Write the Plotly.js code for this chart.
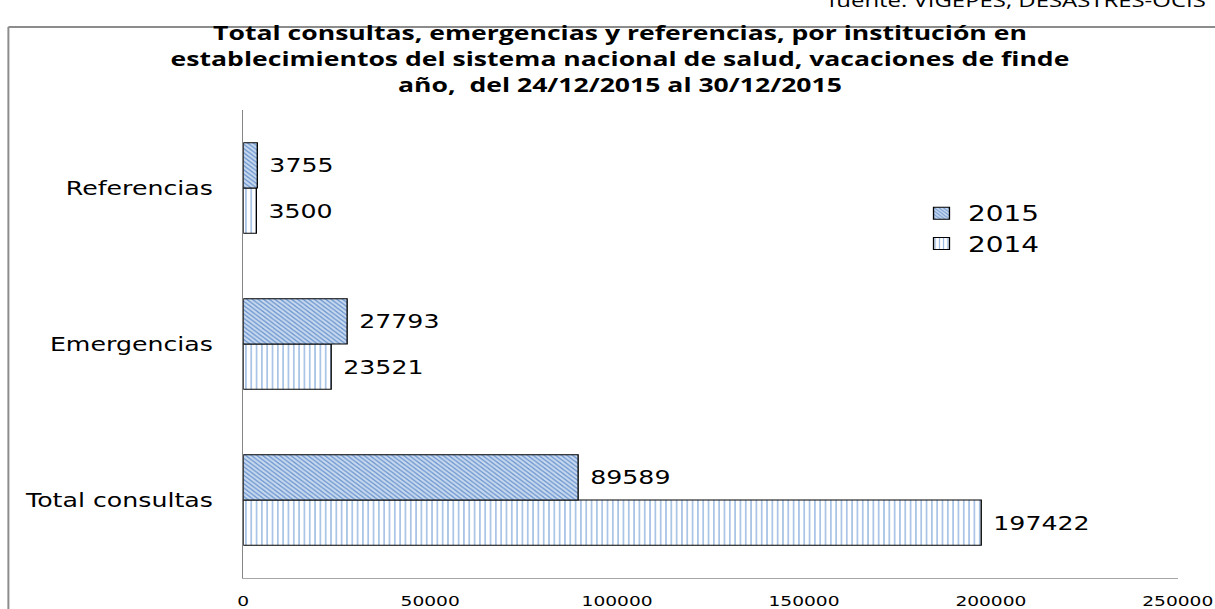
<!DOCTYPE html>
<html>
<head>
<meta charset="utf-8">
<script src="https://cdn.plot.ly/plotly-3.0.1.min.js"></script>
<style>
html,body{margin:0;padding:0;background:#fff;overflow:hidden;}
#wrap{width:1215px;height:609px;overflow:hidden;position:relative;}
#chart{width:914px;height:609px;transform:scaleX(1.32932);transform-origin:0 0;}
</style>
</head>
<body>
<div id="wrap"><div id="chart"></div></div>
<script>
var categories = ['Total consultas', 'Emergencias', 'Referencias'];
var values2015 = [89589, 27793, 3755];
var values2014 = [197422, 23521, 3500];
var seriesNames = ['2015', '2014'];
var xTicks = [0, 50000, 100000, 150000, 200000, 250000];

// The reference picture is stretched horizontally; the chart is drawn narrower and stretched the same way.
var S = 1215 / 914;
var W = 914, H = 609;
var L = 243 / S, R = 1178 / S, T = 110, B = 578;
function px(x){ return (x / S - L) / (R - L); }   // reference pixel x -> paper x
function py(y){ return (B - y) / (B - T); }       // reference pixel y -> paper y

var labelFont = {family: 'DejaVu Sans, sans-serif', size: 19, color: '#000'};

var trace2014 = {
  type: 'bar', orientation: 'h', name: seriesNames[1],
  y: categories, x: values2014,
  text: values2014.map(function(v){ return '\u00a0' + v; }),
  textposition: 'outside', textfont: labelFont, cliponaxis: false,
  marker: {
    color: '#ffffff',
    line: {color: '#000', width: 1},
    pattern: {shape: '|', fgcolor: '#8fb2de', bgcolor: '#ffffff', size: 4, solidity: 0.25, fillmode: 'replace'}
  },
  hoverinfo: 'x+y'
};
var trace2015 = {
  type: 'bar', orientation: 'h', name: seriesNames[0],
  y: categories, x: values2015,
  text: values2015.map(function(v){ return '\u00a0' + v; }),
  textposition: 'outside', textfont: labelFont, cliponaxis: false,
  marker: {
    color: '#b9cde8',
    line: {color: '#000', width: 1},
    pattern: {shape: '\\', fgcolor: '#6f98cf', bgcolor: '#c9daf0', size: 3, solidity: 0.4, fillmode: 'replace'}
  },
  hoverinfo: 'x+y'
};

var layout = {
  width: W, height: H,
  margin: {l: L, r: W - R, t: T, b: H - B, pad: 0},
  paper_bgcolor: '#fff', plot_bgcolor: '#fff',
  barmode: 'group', bargap: 0.42, bargroupgap: 0,
  showlegend: true,
  legend: {
    x: px(915), y: py(193), xanchor: 'left', yanchor: 'top',
    traceorder: 'reversed',
    font: {family: 'DejaVu Sans, sans-serif', size: 21, color: '#000'},
    bgcolor: 'rgba(0,0,0,0)', itemwidth: 30, tracegroupgap: 0
  },
  xaxis: {
    range: [0, 250000], tickvals: xTicks, ticktext: xTicks.map(String),
    showgrid: false, zeroline: false, showline: true, linecolor: '#a6a6a6', linewidth: 1,
    ticks: '', ticklabelstandoff: 10,
    tickfont: {family: 'DejaVu Sans, sans-serif', size: 14, color: '#000'}
  },
  yaxis: {
    type: 'category', categoryorder: 'array', categoryarray: categories,
    showgrid: false, zeroline: false, showline: true, linecolor: '#868686', linewidth: 1,
    ticks: '', ticklabelstandoff: 18,
    tickfont: {family: 'DejaVu Sans, sans-serif', size: 19, color: '#000'}
  },
  title: {
    text: '<b>Total consultas, emergencias y referencias, por institución en<br>establecimientos del sistema nacional de salud, vacaciones de finde<br>año,  del 24/12/2015 al 30/12/2015</b>',
    x: (620 / S) / W, xanchor: 'center', y: 1 - 40 / H, yanchor: 'top',
    font: {family: 'Open Sans, sans-serif', size: 20, color: '#000'}
  },
  annotations: [{
    text: 'fuente: VIGEPES, DESASTRES-OCIS',
    xref: 'paper', yref: 'paper', x: px(1209), y: py(14), xanchor: 'right', yanchor: 'bottom',
    showarrow: false, font: {family: 'Open Sans, sans-serif', size: 18, color: '#000'}
  }],
  shapes: [
    {type: 'line', xref: 'paper', yref: 'paper', x0: px(8), x1: px(8), y0: py(27), y1: py(612), line: {color: '#8c8c8c', width: 1.5}},
    {type: 'line', xref: 'paper', yref: 'paper', x0: px(8), x1: px(1220), y0: py(27), y1: py(27), line: {color: '#8c8c8c', width: 2}}
  ]
};

Plotly.newPlot('chart', [trace2014, trace2015], layout, {displayModeBar: false, staticPlot: true});
</script>
</body>
</html>
